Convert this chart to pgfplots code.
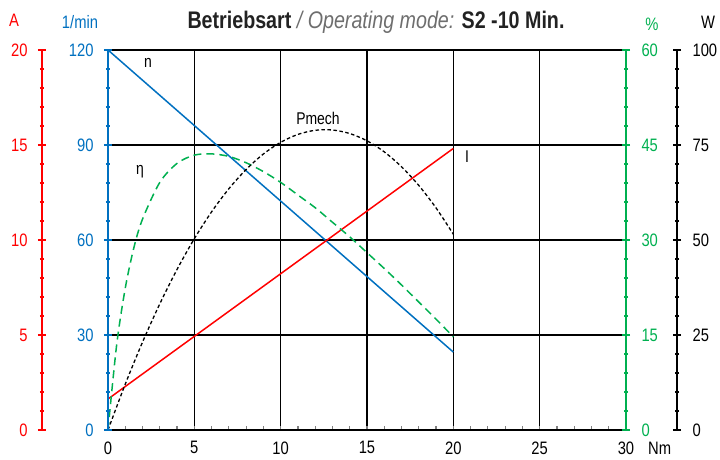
\documentclass[border=0pt]{standalone}
\usepackage{fontspec}
\setmainfont{Liberation Sans}[FakeStretch=0.82]
\usepackage{pgfplots}
\pgfplotsset{compat=1.18}
\definecolor{cred}{HTML}{FF0000}
\definecolor{cblue}{HTML}{0070C0}
\definecolor{cgreen}{HTML}{00B050}
\definecolor{tgray}{HTML}{6E6E6E}
\definecolor{tdark}{HTML}{222222}
\pgfplotsset{
  base/.style={scale only axis, width=518pt, height=380pt, xmin=0, xmax=30,
    /pgf/number format/assume math mode=true,
    tick label style={font=\fontsize{18}{18}\selectfont},
    tick style={line width=1.2pt},
    clip=false},
  hidden/.style={base, hide axis},
  yover/.style={base, hide x axis, major tick length=8pt, minor tick length=4pt,
    tick align=center, axis line style={line width=1.5pt}},
}
\begin{document}
\begin{tikzpicture}
\useasboundingbox (-108pt,-29pt) rectangle (612pt,430pt);
% main frame, grid, x axis, speed n
\begin{axis}[base, ymin=0, ymax=120,
  axis line style={black, line width=1.5pt},
  xtick={0,5,...,30}, minor x tick num=4, xtick pos=left,
  tick align=inside, major tick length=4pt, minor tick length=4pt,
  ytick={0,30,...,120}, yticklabels={}, y tick style={draw=none}, ytick pos=left,
  grid=major, major grid style={black, line width=1.3pt},
  xticklabel style={yshift=-8pt}]
\addplot[cblue, line width=1.5pt] coordinates {(0,120) (20,24.6)};
\end{axis}
% current I (A)
\begin{axis}[hidden, ymin=0, ymax=20]
\addplot[cred, line width=1.5pt] coordinates {(0,1.63) (20,14.82)};
\end{axis}
% efficiency (%)
\begin{axis}[hidden, ymin=0, ymax=60]
\addplot[cgreen, line width=1.5pt, dash pattern=on 8pt off 5pt, smooth] coordinates {
(0,0) (0.5,13.4) (1,22.4) (1.5,28.8) (2,33.3) (3,39.1) (4,42.1) (5,43.4) (6,43.6)
(7,43.2) (8,42.2) (9,40.8) (10,39.1) (11,37.1) (12,35.1) (13,32.8) (14,30.5)
(15,28.0) (16,25.5) (17,22.9) (18,20.2) (19,17.5) (20,14.7)};
\end{axis}
% mechanical power (W)
\begin{axis}[hidden, ymin=0, ymax=100]
\addplot[black, line width=1.3pt, dash pattern=on 3.5pt off 2.5pt, smooth] coordinates {
(0,0) (1,12.07) (2,23.13) (3,33.20) (4,42.27) (5,50.34) (6,57.42) (7,63.49)
(8,68.56) (9,72.64) (10,75.71) (11,77.79) (12,78.87) (13,78.95) (14,78.02)
(15,76.11) (16,73.19) (17,69.27) (18,64.35) (19,58.44) (20,51.52)};
\end{axis}
% blue axis (1/min)
\begin{axis}[yover, axis y line*=left, ymin=0, ymax=120,
  ytick={0,30,...,120}, minor y tick num=4,
  axis line style={cblue}, y tick style={cblue}, yticklabel style={cblue, xshift=-7pt}]
\end{axis}
% green axis (%)
\begin{axis}[yover, axis y line*=right, ymin=0, ymax=60,
  ytick={0,15,...,60}, minor y tick num=4,
  axis line style={cgreen}, y tick style={cgreen}, yticklabel style={cgreen, xshift=8pt}]
\end{axis}
% red axis (A)
\begin{axis}[yover, at={(-66pt,0pt)}, axis y line*=left, ymin=0, ymax=20,
  ytick={0,5,...,20}, minor y tick num=4,
  axis line style={cred}, y tick style={cred}, yticklabel style={cred, xshift=-7pt}]
\end{axis}
% black axis (W)
\begin{axis}[yover, at={(51pt,0pt)}, axis y line*=right, ymin=0, ymax=100,
  ytick={0,25,...,100}, minor y tick num=4,
  axis line style={black}, y tick style={black}, yticklabel style={black, xshift=8pt}]
\end{axis}
% texts
\begin{scope}[every node/.style={font=\fontsize{18}{18}\selectfont, inner sep=0pt}]
\node[cred] at (-94pt,410pt) {A};
\node[cblue] at (-28pt,408pt) {1/min};
\node[cgreen] at (544pt,406pt) {\%};
\node[black, anchor=west] at (593pt,408pt) {W};
\node[black, anchor=west] at (540pt,-18pt) {Nm};
\node[black, font=\fontsize{17}{17}\selectfont] at (40pt,367pt) {n};
\node[black, font=\fontsize{17}{17}\selectfont] at (32pt,258pt) {η};
\node[black, font=\fontsize{17}{17}\selectfont] at (210pt,312pt) {Pmech};
\node[black, font=\fontsize{17}{17}\selectfont] at (359pt,273pt) {I};
\node[font=\fontsize{24}{24}\selectfont] at (268pt,408pt)
  {\textcolor{tdark}{\bfseries Betriebsart} \textcolor{tgray}{\itshape / Operating mode:} \textcolor{tdark}{\bfseries S2 -10 Min.}};
\end{scope}
\end{tikzpicture}
\end{document}
